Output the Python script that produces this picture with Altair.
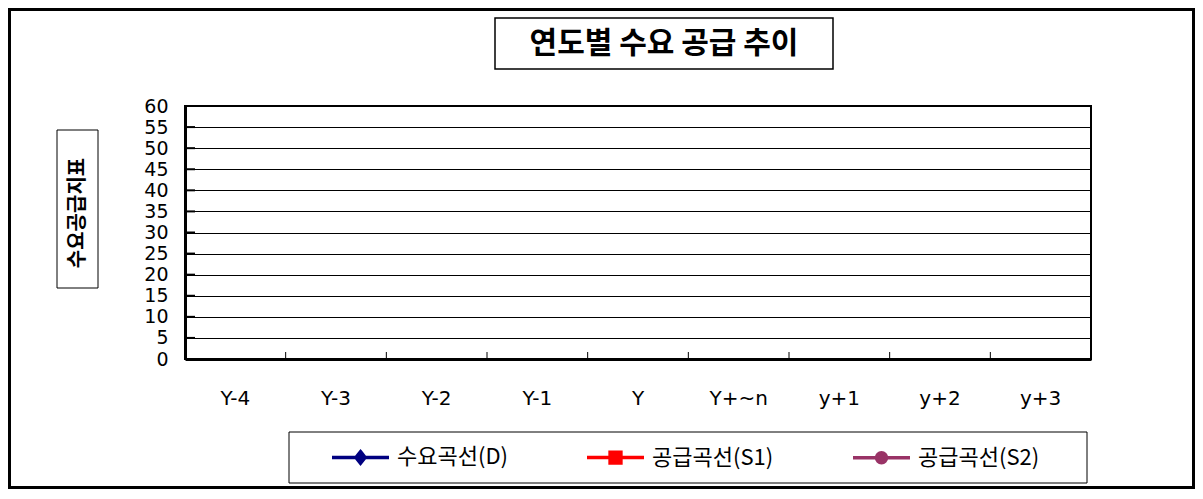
import altair as alt
import pandas as pd

# ---- data (the reference chart is empty: no plotted values) ----
categories = ["Y-4", "Y-3", "Y-2", "Y-1", "Y", "Y+~n", "y+1", "y+2", "y+3"]
series = ["수요곡선(D)", "공급곡선(S1)", "공급곡선(S2)"]
demand_D = [None, None, None, None, None, None, None, None, None]
supply_S1 = [None, None, None, None, None, None, None, None, None]
supply_S2 = [None, None, None, None, None, None, None, None, None]
y_ticks = [0, 5, 10, 15, 20, 25, 30, 35, 40, 45, 50, 55, 60]
colors = ["#000080", "#FF0000", "#993366"]
title_text = "연도별 수요 공급 추이"
y_title_text = "수요공급지표"

W, H = 906, 253
SVG_W, SVG_H = 1187, 481
PAD_L, PAD_T = 177, 98

rows = []
for s, vals in zip(series, [demand_D, supply_S1, supply_S2]):
    for c, v in zip(categories, vals):
        rows.append({"period": c, "series": s, "value": v})
df = pd.DataFrame(rows)
xtick_df = pd.DataFrame({"period": categories[1:]})
ytick_df = pd.DataFrame({"value": y_ticks})

shape_paths = [
    "M-1,0L1,0M0,-0.2L0.16,0L0,0.2L-0.16,0Z",
    "M-1,0L1,0M-0.19,-0.19L0.19,-0.19L0.19,0.19L-0.19,0.19Z",
    "M-1,0L-0.175,0M0.175,0L1,0M-0.175,0A0.175,0.175,0,1,1,0.175,0A0.175,0.175,0,1,1,-0.175,0Z",
]

x_scale = alt.Scale(type="band", domain=categories, paddingInner=0, paddingOuter=0)
x_axis = alt.Axis(title=None, labelAngle=0, ticks=False, domain=True, domainWidth=3,
                  domainColor="black", labelFont="DejaVu Sans", labelFontSize=20,
                  labelColor="black", labelPadding=39, labelBaseline="middle", grid=False)
y_scale = alt.Scale(domain=[0, 60], nice=False, zero=True)
y_axis = alt.Axis(values=y_ticks, title=None, grid=True, gridColor="black", gridWidth=1,
                  gridOpacity=1, ticks=False, domainWidth=3, domainColor="black",
                  labelFontSize=19, labelFont="DejaVu Sans", labelColor="black",
                  labelPadding=17, labelOverlap=False, labelBound=False, labelBaseline="middle")

legend = alt.Legend(orient="none", legendX=145, legendY=320.5, direction="horizontal",
                    columns=3, title=None, symbolSize=3249, symbolStrokeWidth=3.5,
                    labelFont="Noto Sans CJK KR", labelFontSize=22, labelColor="black",
                    labelOffset=6, columnPadding=72, padding=0, symbolOpacity=1)

data_layer = alt.Chart(df).mark_point(filled=True, opacity=1, size=80).encode(
    x=alt.X("period:N", scale=x_scale, axis=x_axis),
    y=alt.Y("value:Q", scale=y_scale, axis=y_axis),
    fill=alt.Fill("series:N", scale=alt.Scale(domain=series, range=colors), legend=legend),
    stroke=alt.Stroke("series:N", scale=alt.Scale(domain=series, range=colors), legend=legend),
    shape=alt.Shape("series:N", scale=alt.Scale(domain=series, range=shape_paths), legend=legend),
)

xticks = alt.Chart(xtick_df).mark_rule(color="black", strokeWidth=1).encode(
    x=alt.X("period:N", scale=x_scale, axis=x_axis, bandPosition=0),
    y=alt.value(H),
    y2=alt.value(H - 7),
)

yticks = alt.Chart(ytick_df).mark_rule(color="black", strokeWidth=2).encode(
    y=alt.Y("value:Q", scale=y_scale, axis=y_axis),
    x=alt.value(0),
    x2=alt.value(10),
)

one = alt.Data(values=[{"k": 0}])

outer = alt.Chart(one).mark_rect(filled=False, stroke="black", strokeWidth=3).encode(
    x=alt.value(1.5 - PAD_L), x2=alt.value(SVG_W - 1.5 - PAD_L),
    y=alt.value(1.5 - PAD_T), y2=alt.value(SVG_H - 1.5 - PAD_T)
)
title_box = alt.Chart(one).mark_rect(filled=False, stroke="black", strokeWidth=1.5).encode(
    x=alt.value(310), x2=alt.value(648), y=alt.value(-88), y2=alt.value(-37)
)
title_mark = alt.Chart(one).mark_text(font="Noto Sans CJK KR", fontSize=30, fontWeight="bold",
                                      color="black", align="center", baseline="middle").encode(
    x=alt.value(479), y=alt.value(-62.5), text=alt.value(title_text)
)
ytitle_box = alt.Chart(one).mark_rect(filled=False, stroke="black", strokeWidth=1).encode(
    x=alt.value(-128), x2=alt.value(-87), y=alt.value(24), y2=alt.value(182)
)
ytitle_mark = alt.Chart(one).mark_text(font="Noto Sans CJK KR", fontSize=20, fontWeight="bold",
                                       color="black", align="center", baseline="middle",
                                       angle=270).encode(
    x=alt.value(-107.5), y=alt.value(107), text=alt.value(y_title_text)
)
legend_box = alt.Chart(one).mark_rect(filled=False, stroke="black", strokeWidth=1).encode(
    x=alt.value(104), x2=alt.value(902), y=alt.value(326), y2=alt.value(377)
)

chart = alt.layer(
    outer, title_box, title_mark, ytitle_box, ytitle_mark, legend_box,
    yticks, xticks, data_layer
).properties(
    width=W, height=H,
    padding={"left": PAD_L, "top": PAD_T, "right": SVG_W - PAD_L - W, "bottom": SVG_H - PAD_T - H},
    autosize=alt.AutoSizeParams(type="none"),
    background="white",
).configure_view(
    stroke="black", strokeWidth=2
)

chart.save("out.html", embed_options={"renderer": "svg", "actions": False})
